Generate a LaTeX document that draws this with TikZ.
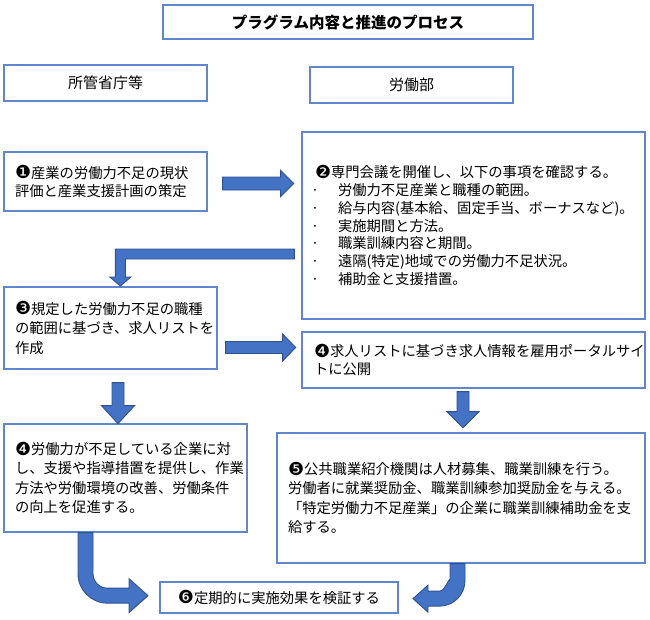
\documentclass[tikz,border=0pt]{standalone}
\usepackage{fontspec}
\setmainfont{Noto Sans CJK JP}
\newfontfamily\dingfont{DejaVu Sans}
\usetikzlibrary{calc}
\definecolor{boxblue}{RGB}{98,134,204}
\definecolor{arrowfill}{RGB}{68,114,196}
\definecolor{arrowedge}{RGB}{47,82,143}
\newcommand{\bul}{\makebox[23pt][l]{\hspace{-4pt}·}}
\newcommand{\stepno}[1]{\raisebox{-0.8pt}{\dingfont\fontsize{18}{15}\selectfont #1}}
\tikzset{
  procbox/.style={draw=boxblue, line width=1.3pt, inner ysep=0pt, inner xsep=11pt,
    align=left, font=\fontsize{14.3}{19.5}\selectfont},
  headbox/.style={draw=boxblue, line width=1.3pt, minimum width=203pt, minimum height=36pt,
    font=\fontsize{15}{18}\selectfont},
  titlebox/.style={draw=boxblue, line width=1.8pt, font=\fontsize{15.5}{18}\selectfont\bfseries},
  blockarrow/.style={fill=arrowfill, draw=arrowedge, line width=0.9pt, line join=miter},
}
\begin{document}
\begin{tikzpicture}[x=1pt,y=-1pt]
\useasboundingbox (0,0) rectangle (650,619);
% headings
\node[titlebox, minimum width=370pt, minimum height=34pt] (title) at (348,22) {プラグラム内容と推進のプロセス};
\node[headbox] (hdrl) at (105.5,83) {所管省庁等};
\node[headbox] (hdrr) at (411.5,85) {労働部};
% steps
\node[procbox, text width=181pt, minimum height=59pt, font=\fontsize{14.3}{18}\selectfont] (box1) at (105.5,181.5)
  {\stepno{❶}産業の労働力不足の現状\\評価と産業支援計画の策定};
\node[procbox, text width=317pt, inner xsep=13pt, minimum height=187pt, font=\fontsize{14.3}{17.8}\selectfont] (box2) at (473.5,225.5)
  {\stepno{❷}専門会議を開催し、以下の事項を確認する。\\
   \bul 労働力不足産業と職種の範囲。\\
   \bul 給与内容(基本給、固定手当、ボーナスなど)。\\
   \bul 実施期間と方法。\\
   \bul 職業訓練内容と期間。\\
   \bul 遠隔(特定)地域での労働力不足状況。\\
   \bul 補助金と支援措置。};
\node[procbox, text width=191pt, minimum height=82pt] (box3) at (110.5,328)
  {\stepno{❸}規定した労働力不足の職種\\の範囲に基づき、求人リストを\\作成};
\node[procbox, text width=319pt, inner xsep=12pt, minimum height=56pt, font=\fontsize{14.3}{18}\selectfont] (box4r) at (473.5,360)
  {\stepno{❹}求人リストに基づき求人情報を雇用ポータルサイ\\トに公開};
\node[procbox, text width=221pt, minimum height=108pt] (box4l) at (125.5,478)
  {\stepno{❹}労働力が不足している企業に対\\し、支援や指導措置を提供し、作業\\方法や労働環境の改善、労働条件\\の向上を促進する。};
\node[procbox, text width=346pt, minimum height=130pt] (box5) at (461,498)
  {\stepno{❺}公共職業紹介機関は人材募集、職業訓練を行う。\\労働者に就業奨励金、職業訓練参加奨励金を与える。\\「特定労働力不足産業」の企業に職業訓練補助金を支\\給する。};
\node[procbox, text width=216pt, minimum height=31pt, align=center] (box6) at (279,597.5)
  {\stepno{❻}定期的に実施効果を検証する};
% block arrows
\filldraw[blockarrow] ($(box1.east)+(15,-4.5)$) -- ++(58,0) -- ++(0,-6.5) -- ++(13,13)
  -- ++(-13,13) -- ++(0,-6.5) -- ++(-58,0) -- cycle;
\filldraw[blockarrow] ($(box2.west)+(-7,23.5)$) -- ++(-179,0) -- ++(0,28) -- ++(-5.5,0)
  -- ++(10.5,9) -- ++(10.5,-9) -- ++(-5.5,0) -- ++(0,-18) -- ++(169,0) -- cycle;
\filldraw[blockarrow] ($(box3.east)+(8,13.5)$) -- ++(57,0) -- ++(0,-7.5) -- ++(13,13.5)
  -- ++(-13,13.5) -- ++(0,-7.5) -- ++(-57,0) -- cycle;
\filldraw[blockarrow] ($(box3.south)+(1.5,13)$) -- ++(0,23) -- ++(-10.5,0) -- ++(16.5,18)
  -- ++(16.5,-18) -- ++(-10.5,0) -- ++(0,-23) -- cycle;
\filldraw[blockarrow] ($(box4r.south)+(-16.5,3)$) -- ++(0,20) -- ++(-10,0) -- ++(16,16)
  -- ++(16,-16) -- ++(-10,0) -- ++(0,-20) -- cycle;
\filldraw[blockarrow] ($(box4l.south)+(-47.5,0)$) -- ++(0,41)
  .. controls +(0,16.3) and +(-16.3,0) .. ++(29.5,29.5) -- ++(21.5,0) -- ++(0,9.5)
  -- ++(19,-17) -- ++(-19,-17) -- ++(0,9.5) -- ++(-21.5,0)
  .. controls +(-8,0) and +(0,8) .. ++(-14.5,-14.5) -- ++(0,-41) -- cycle;
\filldraw[blockarrow] ($(box5.south)+(-11,0)$) -- ++(15,0) -- ++(0,17)
  .. controls +(0,14) and +(14,0) .. ++(-25.5,25.5) -- ++(-11.5,0) -- ++(0,6)
  -- ++(-15,-13.5) -- ++(15,-13.5) -- ++(0,6) -- ++(11.5,0)
  .. controls +(5.8,0) and +(0,-5.8) .. ++(10.5,-10.5) -- cycle;
\end{tikzpicture}
\end{document}
